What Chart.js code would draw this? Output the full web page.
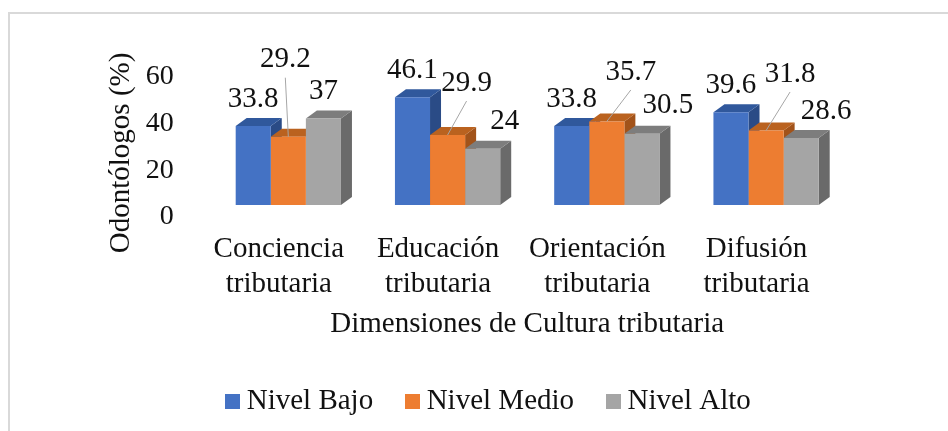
<!DOCTYPE html>
<html><head><meta charset="utf-8">
<script src="https://cdn.jsdelivr.net/npm/chart.js@4.4.1/dist/chart.umd.min.js"></script>
<style>
html,body{margin:0;padding:0;background:#fff;overflow:hidden;}
#wrap{position:relative;width:948px;height:431px;overflow:hidden;}
#frame{position:absolute;left:8px;top:12px;width:1200px;height:800px;border-left:2px solid #d9d9d9;border-top:2px solid #d9d9d9;}
canvas{position:absolute;left:0;top:0;}
</style></head><body>
<div id="wrap"><div id="frame"></div><canvas id="c" width="948" height="431"></canvas></div>
<script>
// ---- data ----
const categories = [['Conciencia','tributaria'],['Educación','tributaria'],['Orientación','tributaria'],['Difusión','tributaria']];
const seriesNames = ['Nivel Bajo','Nivel Medio','Nivel Alto'];
const nivelBajo = [33.8, 46.1, 33.8, 39.6];
const nivelMedio = [29.2, 29.9, 35.7, 31.8];
const nivelAlto = [37, 24, 30.5, 28.6];
const yTickValues = [0, 20, 40, 60];
const xTitle = 'Dimensiones de Cultura tributaria';
const yTitle = 'Odontólogos (%)';

// ---- style ----
const FONT = 'Liberation Serif';
const faceColors = [
  {front:'#4472C4', top:'#30589C', side:'#2A4B86'},
  {front:'#ED7D31', top:'#BA621F', side:'#A2531A'},
  {front:'#A5A5A5', top:'#7D7D7D', side:'#6A6A6A'}
];
const DEPTH_X = 11, DEPTH_Y = 8;
// label placement offsets relative to top-centre of each bar front
const labelOffsets = [
  [[0,-27],[0,-27],[0,-27],[0,-27]],
  [[-3,-77],[19,-52],[24,-49.5],[24,-56.6]],
  [[0,-27],[22,-27],[26,-28.6],[25,-27]]
];
const leaderSeries = 1;

// legend swatches (15px squares)
const swatches = faceColors.map(c=>{
  const cv = document.createElement('canvas');
  cv.width = 15; cv.height = 15;
  const g = cv.getContext('2d');
  g.fillStyle = c.front; g.fillRect(0,0,15,15);
  return cv;
});

const depthPlugin = {
  id:'depth3d',
  beforeDatasetsDraw(chart){
    const ctx = chart.ctx;
    chart.data.datasets.forEach((ds,i)=>{
      const meta = chart.getDatasetMeta(i);
      meta.data.forEach(bar=>{
        const p = bar.getProps(['x','y','base','width'], true);
        const l = p.x - p.width/2, r = p.x + p.width/2;
        ctx.save();
        ctx.fillStyle = faceColors[i].side;
        ctx.beginPath();
        ctx.moveTo(r, p.y); ctx.lineTo(r+DEPTH_X, p.y-DEPTH_Y);
        ctx.lineTo(r+DEPTH_X, p.base-DEPTH_Y); ctx.lineTo(r, p.base);
        ctx.closePath(); ctx.fill();
        ctx.fillStyle = faceColors[i].top;
        ctx.beginPath();
        ctx.moveTo(l, p.y); ctx.lineTo(l+DEPTH_X, p.y-DEPTH_Y);
        ctx.lineTo(r+DEPTH_X, p.y-DEPTH_Y); ctx.lineTo(r, p.y);
        ctx.closePath(); ctx.fill();
        ctx.restore();
      });
    });
  }
};

const labelPlugin = {
  id:'valueLabels',
  afterDatasetsDraw(chart){
    const ctx = chart.ctx;
    ctx.save();
    ctx.font = '29px "' + FONT + '"';
    ctx.textAlign = 'center';
    ctx.textBaseline = 'middle';
    chart.data.datasets.forEach((ds,i)=>{
      const meta = chart.getDatasetMeta(i);
      meta.data.forEach((bar,j)=>{
        const p = bar.getProps(['x','y'], true);
        const off = labelOffsets[i][j];
        const lx = p.x + off[0], ly = p.y + off[1];
        if (i === leaderSeries) {
          ctx.strokeStyle = '#A6A6A6';
          ctx.lineWidth = 1;
          ctx.beginPath();
          ctx.moveTo(lx, ly + 18);
          ctx.lineTo(p.x, p.y);
          ctx.stroke();
        }
        ctx.fillStyle = '#111';
        ctx.fillText(String(ds.data[j]), lx, ly);
      });
    });
    ctx.restore();
  }
};

const chartAreaLeft = 208.7, chartAreaRight = 845.7, chartAreaTop = 64.6, chartAreaBottom = 205;
const padLeft = 35, padBottom = 5.5, legendHeight = 78;

new Chart(document.getElementById('c'), {
  type:'bar',
  data:{
    labels: categories,
    datasets:[
      {label:seriesNames[0], data:nivelBajo, backgroundColor:faceColors[0].front, borderWidth:0},
      {label:seriesNames[1], data:nivelMedio, backgroundColor:faceColors[1].front, borderWidth:0},
      {label:seriesNames[2], data:nivelAlto, backgroundColor:faceColors[2].front, borderWidth:0}
    ]
  },
  options:{
    responsive:false,
    animation:false,
    devicePixelRatio:1,
    layout:{padding:{left:padLeft, right:0, top:chartAreaTop, bottom:padBottom}},
    datasets:{bar:{categoryPercentage:0.661, barPercentage:1}},
    plugins:{
      tooltip:{enabled:false},
      legend:{
        position:'bottom',
        labels:{
          usePointStyle:true, boxWidth:0.01, boxHeight:15, padding:39, color:'#111',
          font:{family:FONT, size:29},
          generateLabels(chart){
            const items = Chart.defaults.plugins.legend.labels.generateLabels(chart);
            items.forEach((it,k)=>{ it.pointStyle = swatches[k]; });
            return items;
          }
        }
      }
    },
    scales:{
      x:{
        grid:{display:false}, border:{display:false},
        ticks:{color:'#111', font:{family:FONT, size:29}, padding:19, labelOffset:-9.5, maxRotation:0, autoSkip:false},
        title:{display:true, text:xTitle, color:'#111', font:{family:FONT, size:29}, padding:{top:0, bottom:6}},
        afterFit(s){ s.height = 431 - padBottom - legendHeight - chartAreaBottom; }
      },
      y:{
        min:0, max:60,
        grid:{display:false}, border:{display:false},
        afterBuildTicks(s){ s.ticks = yTickValues.map(v=>({value:v})); },
        ticks:{color:'#111', font:{family:FONT, size:28}, padding:27, labelOffset:12},
        title:{display:true, text:yTitle + '     ', color:'#111', font:{family:FONT, size:29}, padding:{top:68.6, bottom:0}},
        afterFit(s){ s.width = chartAreaLeft - padLeft; }
      },
      yRight:{
        position:'right', display:true,
        grid:{display:false}, border:{display:false},
        ticks:{display:false},
        afterFit(s){ s.width = 948 - chartAreaRight; }
      }
    }
  },
  plugins:[depthPlugin, labelPlugin]
});
</script>
</body></html>
